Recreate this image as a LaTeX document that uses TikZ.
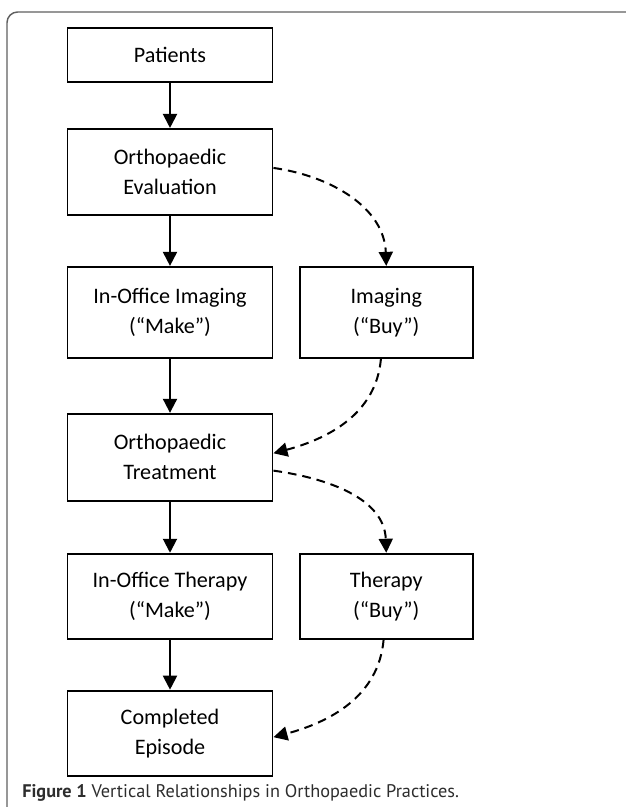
\documentclass[tikz,border=0pt]{standalone}
\usepackage{fontspec}
\setmainfont{Carlito}
\newfontfamily\capfont{PT Sans}
\usetikzlibrary{positioning,arrows.meta}
\definecolor{framegray}{RGB}{95,95,95}
\definecolor{capgray}{RGB}{45,45,45}

\begin{document}
\begin{tikzpicture}[x=0.75pt,y=0.75pt,
 box/.style={draw,rectangle,line width=1.45pt,align=center,minimum width=153.75pt,
   font=\fontsize{16.6pt}{22.5pt}\selectfont},
 buybox/.style={box,minimum width=129.75pt},
 arr/.style={line width=1.5pt,-{Triangle[width=10.5pt,length=10.5pt]}},
 dasharr/.style={arr,dash pattern=on 6.5pt off 4.5pt}]
\useasboundingbox (0,0) rectangle (625,807);

% outer frame
\draw[framegray,line width=1.1pt,rounded corners=8pt] (7,-5) -- (7,795) -- (640,795);

 \node[box,minimum height=40.5pt] (patients) at (170,752) {Patients};
 \node[box,minimum height=64.5pt,below=33.75pt of patients] (evaluation) {Orthopaedic\\Evaluation};
 \node[box,minimum height=68.25pt,below=37.5pt of evaluation] (imgmake) {In-Office Imaging\\(“Make”)};
 \node[buybox,minimum height=68.25pt,right=19pt of imgmake] (imgbuy) {Imaging\\(“Buy”)};
 \node[box,minimum height=65.25pt,below=40.5pt of imgmake] (treatment) {Orthopaedic\\Treatment};
 \node[box,minimum height=63.75pt,below=38.25pt of treatment] (thermake) {In-Office Therapy\\(“Make”)};
 \node[buybox,minimum height=63.75pt,right=19pt of thermake] (therbuy) {Therapy\\(“Buy”)};
 \node[box,minimum height=63.75pt,below=37.5pt of thermake] (completed) {Completed\\Episode};

 \node[anchor=base west,inner sep=0pt,text=capgray,font=\capfont\fontsize{13.7pt}{16pt}\selectfont]
  (caption) at (22,9) {\textbf{Figure 1} Vertical Relationships in Orthopaedic Practices.};

% make path
 \draw[arr] (patients) -- (evaluation);
 \draw[arr] (evaluation) -- (imgmake);
 \draw[arr] (imgmake) -- (treatment);
 \draw[arr] (treatment) -- (thermake);
 \draw[arr] (thermake) -- (completed);
% buy path
 \draw[dasharr] ([yshift=3pt]evaluation.east) to[out=-8,in=92] (imgbuy.north);
 \draw[dasharr] ([xshift=-4pt]imgbuy.south) to[out=-95,in=15] ([yshift=3pt]treatment.east);
 \draw[dasharr] ([yshift=-10pt]treatment.east) to[out=-8,in=92] (therbuy.north);
 \draw[dasharr] ([xshift=-2pt]therbuy.south) to[out=-95,in=15] ([yshift=-3pt]completed.east);
\end{tikzpicture}
\end{document}
